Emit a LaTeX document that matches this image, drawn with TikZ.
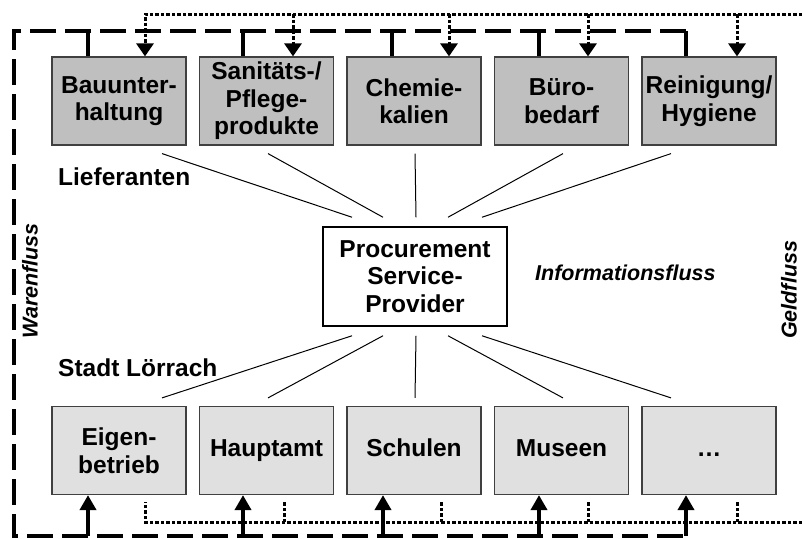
\documentclass[tikz,border=0pt]{standalone}
\usepackage{fontspec}
\setmainfont{Liberation Sans}
\newcommand{\boxfont}{\bfseries\fontsize{24.5}{27.5}\selectfont}
\newcommand{\flowfont}{\bfseries\itshape\fontsize{21.5}{24}\selectfont}
\usetikzlibrary{arrows.meta}

\begin{document}
\begin{tikzpicture} [
    x = 1pt, y = 1pt,
    lief/.style = {rectangle, draw=black!75, line width=1.2pt, fill=black!25, text centered,
    align=center, minimum width=134pt, minimum height=88pt, inner sep=0pt, font=\boxfont},
    amt/.style = {lief, fill=black!12},
    psp/.style = {rectangle, draw, line width=1.5pt, fill=white, align=center,
    minimum width=184pt, minimum height=99pt, inner sep=0pt, font=\boxfont},
    lbl/.style = {anchor=west, inner sep=0pt, font=\boxfont},
    flow/.style = {anchor=west, inner sep=0pt, font=\flowfont},
    line/.style = {draw, line width=1pt},
    waren/.style = {draw, line width=3.3pt, dash pattern=on 26pt off 9pt},
    stub/.style = {draw, line width=4pt},
    warenpfeil/.style = {draw, line width=4pt, -{Triangle[length=15pt,width=16pt]}},
    geld/.style = {draw, line width=3pt, dash pattern=on 3.5pt off 2pt},
    geldpfeil/.style = {geld, -{Triangle[length=13pt,width=17pt]}},
    node distance = 147.5pt
    ]
    \useasboundingbox (0,0) rectangle (802,-538);

    % Lieferanten
    \node[lief] (l1) at (119,-101) {Bauunter-\\haltung};
    \node[lief, right of=l1] (l2) {Sanitäts-/\\Pflege-\\produkte};
    \node[lief, right of=l2] (l3) {Chemie-\\kalien};
    \node[lief, right of=l3] (l4) {Büro-\\bedarf};
    \node[lief, right of=l4] (l5) {Reinigung/\\Hygiene};

    % Procurement Service-Provider
    \node[psp] (psp) at (415,-276.5) {Procurement\\Service-\\Provider};

    % Stadt Loerrach
    \node[amt] (s1) at (119,-450.5) {Eigen-\\betrieb};
    \node[amt, right of=s1] (s2) {\strut Hauptamt};
    \node[amt, right of=s2] (s3) {\strut Schulen};
    \node[amt, right of=s3] (s4) {\strut Museen};
    \node[amt, right of=s4] (s5) {\strut …};

    % labels
    \node[lbl] (liefl) at (58,-177) {Lieferanten};
    \node[lbl] (stadtl) at (58,-368) {Stadt Lörrach};
    \node[flow] (info) at (535,-273) {Informationsfluss};
    \node[flow, rotate=90] (warenl) at (30,-339) {Warenfluss};
    \node[flow, rotate=90] (geldl) at (789,-339) {Geldfluss};

    % Informationsfluss
    \draw[line] ([xshift=43pt,yshift=-8pt]l1.south) -- ([xshift=-63pt,yshift=9pt]psp.north);
    \draw[line] ([xshift=1.5pt,yshift=-8pt]l2.south) -- ([xshift=-32pt,yshift=9pt]psp.north);
    \draw[line] ([xshift=1pt,yshift=-8pt]l3.south) -- ([xshift=1pt,yshift=9pt]psp.north);
    \draw[line] ([xshift=1.5pt,yshift=-8pt]l4.south) -- ([xshift=33pt,yshift=9pt]psp.north);
    \draw[line] ([xshift=-38pt,yshift=-8pt]l5.south) -- ([xshift=67pt,yshift=9pt]psp.north);
    \draw[line] ([xshift=-63pt,yshift=-9pt]psp.south) -- ([xshift=43pt,yshift=8pt]s1.north);
    \draw[line] ([xshift=-32pt,yshift=-9pt]psp.south) -- ([xshift=1.5pt,yshift=8pt]s2.north);
    \draw[line] ([xshift=1pt,yshift=-9pt]psp.south) -- ([xshift=1pt,yshift=8pt]s3.north);
    \draw[line] ([xshift=33pt,yshift=-9pt]psp.south) -- ([xshift=1.5pt,yshift=8pt]s4.north);
    \draw[line] ([xshift=67pt,yshift=-9pt]psp.south) -- ([xshift=-38pt,yshift=8pt]s5.north);

    % Warenfluss
    \coordinate (wt) at (14,-31);
    \coordinate (wb) at (14,-536);
    \draw[waren] ([xshift=-23pt]l5.north |- wt) -- (wt) -- (wb) -- ([xshift=-23pt]s5.south |- wb);
    \draw[stub] ([xshift=-31pt]l1.north |- wt) -- ([xshift=-31pt]l1.north);
    \draw[stub] ([xshift=-23.5pt]l2.north |- wt) -- ([xshift=-23.5pt]l2.north);
    \draw[stub] ([xshift=-22pt]l3.north |- wt) -- ([xshift=-22pt]l3.north);
    \draw[stub] ([xshift=-22.5pt]l4.north |- wt) -- ([xshift=-22.5pt]l4.north);
    \draw[stub] ([xshift=-23pt]l5.north |- wt) -- ([xshift=-23pt]l5.north);
    \draw[warenpfeil] ([xshift=-31pt]s1.south |- wb) -- ([xshift=-31pt]s1.south);
    \draw[warenpfeil] ([xshift=-23.5pt]s2.south |- wb) -- ([xshift=-23.5pt]s2.south);
    \draw[warenpfeil] ([xshift=-31pt]s3.south |- wb) -- ([xshift=-31pt]s3.south);
    \draw[warenpfeil] ([xshift=-22.5pt]s4.south |- wb) -- ([xshift=-22.5pt]s4.south);
    \draw[warenpfeil] ([xshift=-23pt]s5.south |- wb) -- ([xshift=-23pt]s5.south);

    % Geldfluss
    \coordinate (gt) at (802,-14);
    \coordinate (gb) at (802,-522);
    \draw[geldpfeil] (gt) -| ([xshift=26pt]l1.north);
    \draw[geldpfeil] ([xshift=26.5pt]l2.north |- gt) -- ([xshift=26.5pt]l2.north);
    \draw[geldpfeil] ([xshift=35pt]l3.north |- gt) -- ([xshift=35pt]l3.north);
    \draw[geldpfeil] ([xshift=26.5pt]l4.north |- gt) -- ([xshift=26.5pt]l4.north);
    \draw[geldpfeil] ([xshift=28pt]l5.north |- gt) -- ([xshift=28pt]l5.north);
    \draw[geld] (gb) -| ([xshift=26pt,yshift=-7pt]s1.south);
    \draw[geld] ([xshift=17.5pt]s2.south |- gb) -- ([xshift=17.5pt,yshift=-7pt]s2.south);
    \draw[geld] ([xshift=27pt]s3.south |- gb) -- ([xshift=27pt,yshift=-7pt]s3.south);
    \draw[geld] ([xshift=26.5pt]s4.south |- gb) -- ([xshift=26.5pt,yshift=-7pt]s4.south);
    \draw[geld] ([xshift=28pt]s5.south |- gb) -- ([xshift=28pt,yshift=-7pt]s5.south);

\end{tikzpicture}
\end{document}
